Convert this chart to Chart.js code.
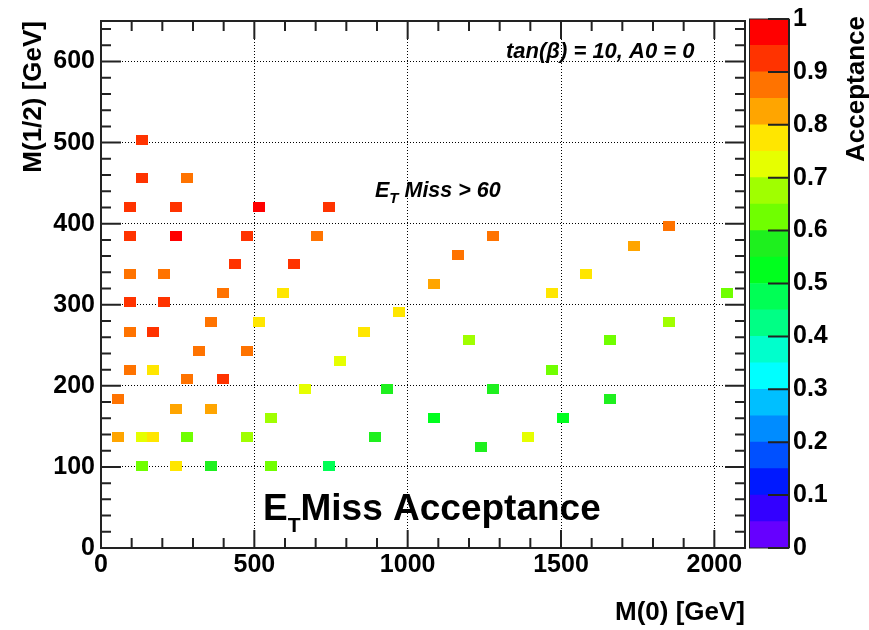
<!DOCTYPE html>
<html>
<head>
<meta charset="utf-8">
<script src="https://cdn.jsdelivr.net/npm/chart.js@4.4.1/dist/chart.umd.min.js"></script>
<style>
html,body{margin:0;padding:0;background:#fff;}
#wrap{position:relative;width:869px;height:630px;overflow:hidden;background:#fff;}
#main{position:absolute;left:0;top:0;}
#cbar{position:absolute;left:745px;top:0;}
</style>
</head>
<body>
<div id="wrap">
<canvas id="main" width="869" height="630"></canvas>
<canvas id="cbar" width="124" height="630"></canvas>
</div>
<script>
// ---- data ----
const m0 = [133,133,282,94,244,515,742,94,244,476,703,1277,1853,1737,1163,437,628,94,207,1582,1087,398,592,1471,2041,94,207,973,360,515,1853,94,171,857,1201,1659,321,476,780,94,171,1471,282,398,664,934,1277,55,1659,244,360,553,1087,1506,55,133,171,282,476,895,1394,1240,133,244,360,553,742];
const mHalf = [503,456,456,421,421,421,421,385,385,385,385,385,397,373,362,350,350,338,338,338,326,315,315,315,315,303,303,291,279,279,279,267,267,267,256,256,243,243,231,220,220,220,208,208,196,196,196,184,184,172,172,160,160,160,137,137,137,137,137,137,137,125,101,101,101,101,101];
const acceptance = [0.93,0.93,0.88,0.93,0.93,0.97,0.93,0.93,0.97,0.92,0.88,0.87,0.88,0.83,0.87,0.93,0.93,0.88,0.88,0.78,0.83,0.88,0.78,0.78,0.63,0.93,0.93,0.78,0.88,0.78,0.68,0.88,0.93,0.78,0.68,0.63,0.88,0.88,0.73,0.88,0.78,0.63,0.88,0.93,0.73,0.58,0.58,0.88,0.58,0.83,0.83,0.68,0.53,0.53,0.83,0.73,0.78,0.63,0.68,0.57,0.73,0.57,0.63,0.78,0.56,0.63,0.48];
const xTickValues = [0,500,1000,1500,2000];
const yTickValues = [0,100,200,300,400,500,600];
const zTickValues = [0,0.1,0.2,0.3,0.4,0.5,0.6,0.7,0.8,0.9,1];
// colour palette, from acceptance 0 (first) to 1 (last), 20 bands
const palette = ['#6600FF','#3300FF','#0019FF','#0050FF','#008CFF','#00BFFF','#00FFFF','#00FFCC','#00FF85','#00FF55','#00FF1E','#1EF01E','#70FF00','#A0FF00','#E6FF00','#FFE600','#FFA500','#FF7300','#FF3300','#FF0000'];

const FONT = '"Liberation Sans", Arial, Helvetica, sans-serif';
Chart.defaults.font.family = FONT;
Chart.defaults.color = '#000';

function colorFor(a){
  const i = Math.max(0, Math.min(palette.length - 1, Math.floor(a * palette.length)));
  return palette[i];
}
const boxCache = {};
function boxFor(color){
  if (!boxCache[color]) {
    const c = document.createElement('canvas');
    c.width = 12; c.height = 10;
    const g = c.getContext('2d');
    g.fillStyle = color; g.fillRect(0, 0, 12, 10);
    boxCache[color] = c;
  }
  return boxCache[color];
}

const points = m0.map((x, i) => ({x: x, y: mHalf[i]}));

const frameAndTicks = {
  id: 'frameAndTicks',
  afterDatasetsDraw(chart){
    const {ctx, chartArea: a, scales: {x, y}} = chart;
    ctx.save();
    ctx.strokeStyle = '#222';
    ctx.lineWidth = 2;
    ctx.beginPath();
    for (let v = 0; v <= x.max; v += 100) {
      const px = x.getPixelForValue(v);
      const L = v % 500 === 0 ? 18 : 10;
      ctx.moveTo(px, a.bottom); ctx.lineTo(px, a.bottom - L);
      ctx.moveTo(px, a.top); ctx.lineTo(px, a.top + L);
    }
    for (let v = 0; v <= y.max; v += 20) {
      const py = y.getPixelForValue(v);
      const L = v % 100 === 0 ? 20 : 10;
      ctx.moveTo(a.left, py); ctx.lineTo(a.left + L, py);
      ctx.moveTo(a.right, py); ctx.lineTo(a.right - L, py);
    }
    ctx.stroke();
    ctx.strokeRect(a.left, a.top, a.right - a.left, a.bottom - a.top);
    ctx.restore();
  }
};

function drawSub(ctx, x, base, fontMain, fontSub, a, sub, b, drop){
  ctx.font = fontMain; ctx.fillText(a, x, base); x += ctx.measureText(a).width;
  ctx.font = fontSub; ctx.fillText(sub, x, base + drop); x += ctx.measureText(sub).width;
  ctx.font = fontMain; ctx.fillText(b, x, base);
}

const notes = {
  id: 'notes',
  afterDraw(chart){
    const ctx = chart.ctx;
    ctx.save();
    ctx.fillStyle = '#000';
    ctx.textAlign = 'left';
    ctx.textBaseline = 'alphabetic';
    ctx.font = 'italic bold 22px ' + FONT;
    ctx.fillText('tan(β) = 10, A0 = 0', 506, 58);
    drawSub(ctx, 375, 197, 'italic bold 21.5px ' + FONT, 'italic bold 15px ' + FONT, 'E', 'T', ' Miss > 60', 6);
    drawSub(ctx, 263, 520, 'bold 37px ' + FONT, 'bold 21px ' + FONT, 'E', 'T', 'Miss Acceptance', 12);
    ctx.restore();
  }
};

new Chart(document.getElementById('main'), {
  type: 'scatter',
  data: {
    datasets: [{
      data: points,
      pointStyle: (c) => boxFor(colorFor(acceptance[c.dataIndex])),
      pointRadius: 5,
      borderWidth: 0
    }]
  },
  options: {
    responsive: false,
    animation: false,
    devicePixelRatio: 1,
    events: [],
    layout: {padding: {left: 0, right: 124, top: 16, bottom: 0}},
    plugins: {legend: {display: false}, tooltip: {enabled: false}},
    scales: {
      x: {
        type: 'linear', min: 0, max: 2100,
        afterBuildTicks: (s) => { s.ticks = xTickValues.map(v => ({value: v})); },
        afterFit: (s) => { s.height = 82; },
        grid: {color: (c) => (c.tick && c.tick.value === 0) ? 'rgba(0,0,0,0)' : '#000', lineWidth: 1, drawTicks: false},
        border: {display: false, dash: [1, 2]},
        ticks: {padding: 2, color: '#000', font: {size: 25, weight: 'bold'}, maxRotation: 0, callback: (v) => String(v)},
        title: {display: true, text: 'M(0) [GeV]', align: 'end', color: '#000', font: {size: 26, weight: 'bold'}, padding: {top: 0, bottom: 2}}
      },
      y: {
        type: 'linear', min: 0, max: 650,
        afterBuildTicks: (s) => { s.ticks = yTickValues.map(v => ({value: v})); },
        afterFit: (s) => { s.width = 101; },
        grid: {color: (c) => (c.tick && c.tick.value === 0) ? 'rgba(0,0,0,0)' : '#000', lineWidth: 1, drawTicks: false},
        border: {display: false, dash: [1, 2]},
        ticks: {padding: 6, color: '#000', font: {size: 25, weight: 'bold'}, callback: (v) => String(v)},
        title: {display: true, text: 'M(1/2) [GeV]', align: 'end', color: '#000', font: {size: 26, weight: 'bold'}, padding: {top: 18, bottom: 0}}
      }
    }
  },
  plugins: [frameAndTicks, notes]
});

// ---- colour bar ----
const bandStep = 1 / palette.length;
const cbarDeco = {
  id: 'cbarDeco',
  afterDraw(chart){
    const {ctx, chartArea: a, scales: {y}} = chart;
    ctx.save();
    ctx.strokeStyle = '#222';
    ctx.lineWidth = 1;
    ctx.strokeRect(a.left + 0.5, a.top, a.right - a.left - 0.5, a.bottom - a.top);
    ctx.lineWidth = 2;
    ctx.beginPath();
    ctx.moveTo(a.right, a.top); ctx.lineTo(a.right, a.bottom);
    zTickValues.forEach(v => {
      const py = y.getPixelForValue(v);
      ctx.moveTo(a.right, py); ctx.lineTo(a.right - 21, py);
    });
    ctx.stroke();
    ctx.fillStyle = '#000';
    ctx.font = 'bold 26px ' + FONT;
    ctx.translate(112, 16);
    ctx.rotate(-Math.PI / 2);
    ctx.textAlign = 'right';
    ctx.textBaseline = 'middle';
    ctx.fillText('Acceptance', 0, 0);
    ctx.restore();
  }
};

new Chart(document.getElementById('cbar'), {
  type: 'bar',
  data: {
    labels: [''],
    datasets: palette.map((c) => ({
      data: [bandStep], backgroundColor: c, borderWidth: 0,
      barPercentage: 1, categoryPercentage: 1, stack: 'bar'
    }))
  },
  options: {
    responsive: false,
    animation: false,
    devicePixelRatio: 1,
    events: [],
    layout: {padding: {left: 4, right: 0, top: 16, bottom: 82}},
    plugins: {legend: {display: false}, tooltip: {enabled: false}},
    scales: {
      x: {display: false, stacked: true},
      y: {
        position: 'right', stacked: true, min: 0, max: 1,
        afterBuildTicks: (s) => { s.ticks = zTickValues.map(v => ({value: v})); },
        afterFit: (s) => { s.width = 80; },
        grid: {display: false, drawTicks: false},
        border: {display: false},
        ticks: {padding: 4, color: '#000', font: {size: 25, weight: 'bold'}, callback: (v) => String(+(+v).toFixed(2))}
      }
    }
  },
  plugins: [cbarDeco]
});
</script>
</body>
</html>
